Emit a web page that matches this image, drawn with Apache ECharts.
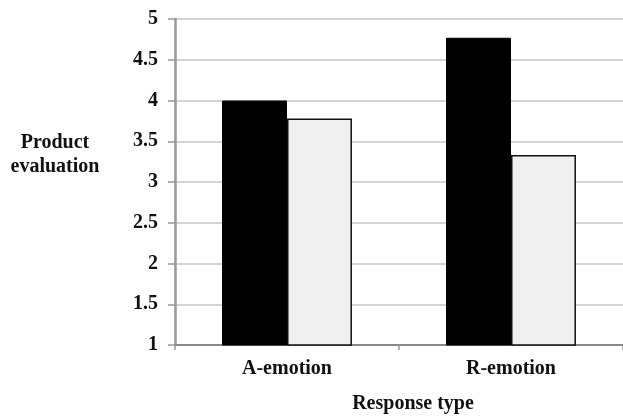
<!DOCTYPE html>
<html><head><meta charset="utf-8">
<script src="https://cdn.jsdelivr.net/npm/echarts@6/dist/echarts.min.js"></script>
<style>html,body{margin:0;padding:0;background:#fff}#c{width:623px;height:418px}</style>
</head><body><div id="c"></div>
<script>
const categories = ['A-emotion', 'R-emotion'];
const seriesDark = [4.0, 4.77];
const seriesLight = [3.78, 3.33];
const yTicks = [1, 1.5, 2, 2.5, 3, 3.5, 4, 4.5, 5];
const yTitle = 'Product\nevaluation';
const xTitle = 'Response type';

const font = 'Liberation Serif';
const chart = echarts.init(document.getElementById('c'), null, {renderer: 'canvas'});
chart.setOption({
  animation: false,
  backgroundColor: '#fff',
  grid: {left: 175, right: 0, top: 19, bottom: 73, containLabel: false},
  xAxis: {
    type: 'category', data: categories,
    axisLine: {lineStyle: {color: '#888', width: 2}},
    axisTick: {show: true, length: 5, lineStyle: {color: '#999', width: 1.5}},
    axisLabel: {margin: 14, fontFamily: font, fontWeight: 'bold', fontSize: 20, color: '#111'}
  },
  yAxis: {
    type: 'value', min: yTicks[0], max: yTicks[yTicks.length - 1], interval: 0.5,
    axisLine: {show: true, lineStyle: {color: '#999', width: 2.5}},
    axisTick: {show: true, length: 7, lineStyle: {color: '#999', width: 1.5}},
    axisLabel: {margin: 17, fontFamily: font, fontWeight: 'bold', fontSize: 20, color: '#111'},
    splitLine: {lineStyle: {color: '#c4c4c4', width: 1.5}}
  },
  series: [
    {type: 'bar', data: seriesDark, barGap: '0%', barCategoryGap: '42%',
     itemStyle: {color: '#000', borderColor: '#000', borderWidth: 1}},
    {type: 'bar', data: seriesLight,
     itemStyle: {color: '#f0f0f0', borderColor: '#111', borderWidth: 1.5}}
  ],
  graphic: [
    {type: 'text', x: 55, y: 131, style: {text: yTitle, fontFamily: font, fontWeight: 'bold', fontSize: 20, fill: '#111', align: 'center', verticalAlign: 'top', lineHeight: 24}},
    {type: 'text', x: 413, y: 404, style: {text: xTitle, fontFamily: font, fontWeight: 'bold', fontSize: 20, fill: '#111', align: 'center', verticalAlign: 'middle'}}
  ]
});
</script></body></html>
